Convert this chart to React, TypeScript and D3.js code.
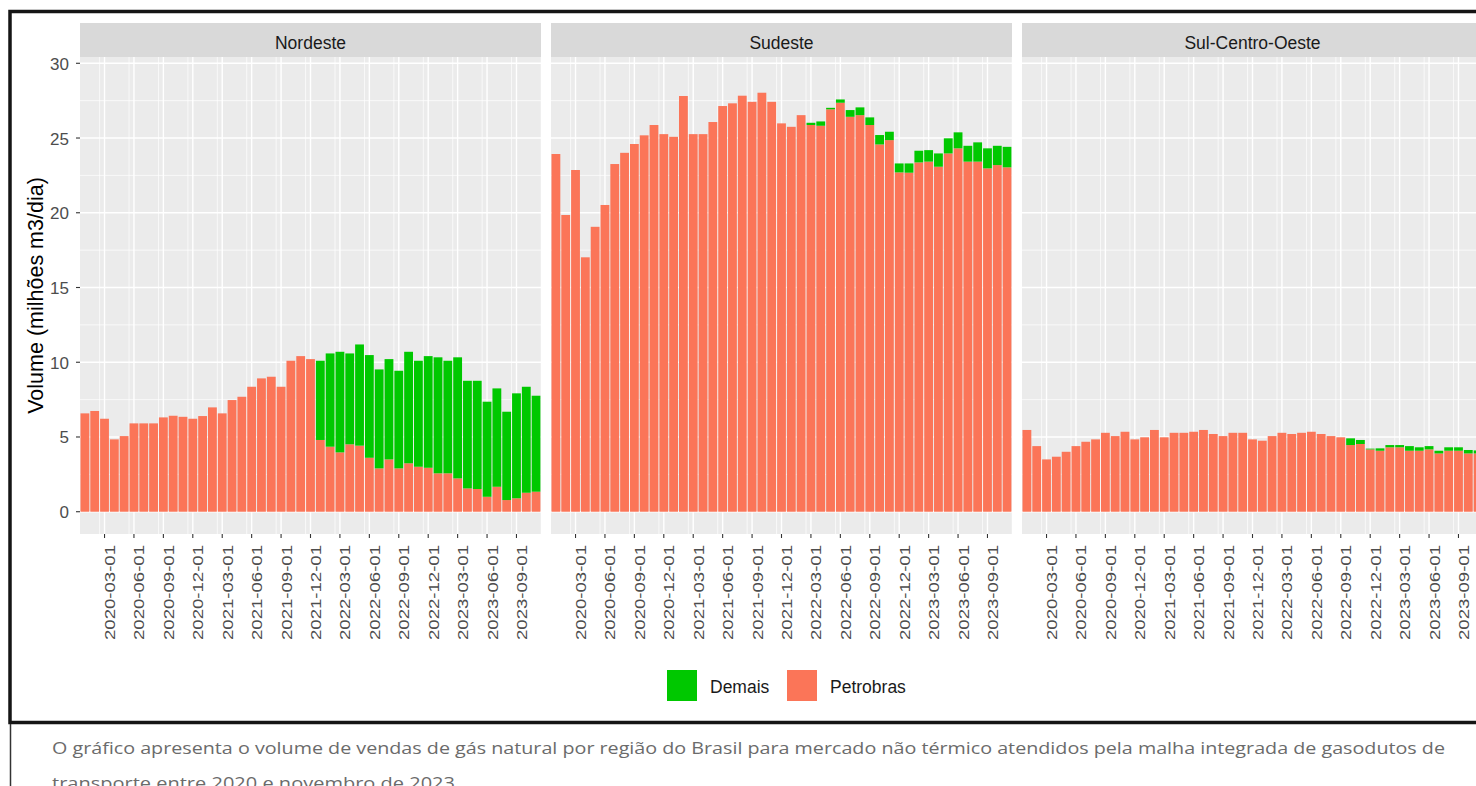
import React from "react";
import * as d3 from "d3";

const months = [
  "2020-01","2020-02","2020-03","2020-04","2020-05","2020-06","2020-07","2020-08","2020-09","2020-10","2020-11","2020-12",
  "2021-01","2021-02","2021-03","2021-04","2021-05","2021-06","2021-07","2021-08","2021-09","2021-10","2021-11","2021-12",
  "2022-01","2022-02","2022-03","2022-04","2022-05","2022-06","2022-07","2022-08","2022-09","2022-10","2022-11","2022-12",
  "2023-01","2023-02","2023-03","2023-04","2023-05","2023-06","2023-07","2023-08","2023-09","2023-10","2023-11",
];
const tickMonths = [
  "2020-03","2020-06","2020-09","2020-12","2021-03","2021-06","2021-09","2021-12",
  "2022-03","2022-06","2022-09","2022-12","2023-03","2023-06","2023-09",
];
const minorMonths = [
  "2020-01","2020-04","2020-07","2020-10","2021-01","2021-04","2021-07","2021-10",
  "2022-01","2022-04","2022-07","2022-10","2023-01","2023-04","2023-07","2023-10",
];
const yTicks = [0, 5, 10, 15, 20, 25, 30];
const yMinor = [2.5, 7.5, 12.5, 17.5, 22.5, 27.5];
const regions = ["Nordeste", "Sudeste", "Sul-Centro-Oeste"];
const seriesKeys = ["Petrobras", "Demais"];
const legendLabels = ["Demais", "Petrobras"];

const nordestePetrobras = [6.58,6.74,6.22,4.84,5.06,5.91,5.91,5.91,6.31,6.42,6.35,6.22,6.40,6.98,6.58,7.47,7.69,8.36,8.92,9.03,8.36,10.10,10.41,10.21,4.80,4.35,3.97,4.51,4.42,3.61,2.90,3.50,2.90,3.24,3.01,2.94,2.57,2.57,2.23,1.56,1.52,1.00,1.67,0.78,0.90,1.27,1.34];
const nordesteDemais = [0,0,0,0,0,0,0,0,0,0,0,0,0,0,0,0,0,0,0,0,0,0,0,0,5.30,6.24,6.73,6.08,6.77,6.87,6.62,6.71,6.53,7.46,7.09,7.47,7.76,7.53,8.10,7.20,7.24,6.36,6.58,5.91,7.02,7.09,6.42];
const sudestePetrobras = [23.93,19.85,22.86,17.02,19.06,20.52,23.26,24.01,24.60,25.18,25.87,25.26,25.08,27.81,25.26,25.26,26.07,27.14,27.32,27.83,27.42,28.03,27.42,25.98,25.75,26.53,25.87,25.82,26.92,27.36,26.42,26.53,25.87,24.57,24.86,22.70,22.68,23.37,23.42,23.08,23.97,24.31,23.42,23.42,22.97,23.19,23.04];
const sudesteDemais = [0,0,0,0,0,0,0,0,0,0,0,0,0,0,0,0,0,0,0,0,0,0,0,0,0,0,0.15,0.29,0.10,0.22,0.45,0.52,0.51,0.63,0.56,0.60,0.62,0.78,0.77,0.89,1.01,1.07,1.06,1.29,1.34,1.29,1.37];
const scoPetrobras = [5.47,4.39,3.50,3.68,4.01,4.39,4.68,4.84,5.28,5.06,5.35,4.84,4.98,5.47,4.98,5.28,5.28,5.35,5.47,5.20,5.06,5.28,5.28,4.84,4.75,5.06,5.28,5.20,5.28,5.35,5.20,5.06,4.98,4.46,4.53,4.17,4.08,4.31,4.31,4.08,4.08,4.17,3.90,4.08,4.08,3.90,3.90];
const scoDemais = [0,0,0,0,0,0,0,0,0,0,0,0,0,0,0,0,0,0,0,0,0,0,0,0,0,0,0,0,0,0,0,0,0,0.45,0.27,0.05,0.16,0.15,0.15,0.31,0.23,0.22,0.18,0.23,0.23,0.23,0.20];

const regionPetrobras = [nordestePetrobras, sudestePetrobras, scoPetrobras];
const regionDemais = [nordesteDemais, sudesteDemais, scoDemais];

const colors: Record<string, string> = { Petrobras: "#FB7558", Demais: "#00C800" };
const FONT = "'Liberation Sans', Arial, Helvetica, sans-serif";

const PANEL_W = 461;
const PANEL_GAP = 10;
const PANEL_X0 = 80;
const PANEL_TOP = 57;
const PANEL_BOTTOM = 534;
const STRIP_TOP = 23;

export default function App() {
  const y = d3.scaleLinear().domain([-1.49, 30.42]).range([PANEL_BOTTOM, PANEL_TOP]);
  const stack = d3.stack<any>().keys(seriesKeys);

  const panels = regions.map((name, p) => {
    const x0 = PANEL_X0 + p * (PANEL_W + PANEL_GAP);
    const x = d3.scaleBand<string>().domain(months).range([x0, x0 + PANEL_W]).paddingInner(0.1).paddingOuter(0.05);
    const step = x.step();
    const center = (m: string) => (x(m) as number) + x.bandwidth() / 2;
    const rows = months.map((m, i) => ({ month: m, Petrobras: regionPetrobras[p][i], Demais: regionDemais[p][i] }));
    const layers = stack(rows);
    return (
      <g key={name}>
        <rect x={x0} y={STRIP_TOP} width={PANEL_W} height={PANEL_TOP - STRIP_TOP} fill="#D9D9D9" />
        <text x={x0 + PANEL_W / 2} y={(STRIP_TOP + PANEL_TOP) / 2 + 2.5} textAnchor="middle" dominantBaseline="central" fontFamily={FONT} fontSize={17.5} fill="#1A1A1A">{name}</text>
        <rect x={x0} y={PANEL_TOP} width={PANEL_W} height={PANEL_BOTTOM - PANEL_TOP} fill="#EBEBEB" />
        {yMinor.map((v) => (
          <line key={"ym" + v} x1={x0} x2={x0 + PANEL_W} y1={y(v)} y2={y(v)} stroke="#FFFFFF" strokeWidth={0.7} />
        ))}
        {minorMonths.map((m) => (
          <line key={"xm" + m} x1={center(m) - 1.5 * step} x2={center(m) - 1.5 * step} y1={PANEL_TOP} y2={PANEL_BOTTOM} stroke="#FFFFFF" strokeWidth={0.7} />
        ))}
        {yTicks.map((v) => (
          <line key={"yM" + v} x1={x0} x2={x0 + PANEL_W} y1={y(v)} y2={y(v)} stroke="#FFFFFF" strokeWidth={1.4} />
        ))}
        {tickMonths.map((m) => (
          <line key={"xM" + m} x1={center(m)} x2={center(m)} y1={PANEL_TOP} y2={PANEL_BOTTOM} stroke="#FFFFFF" strokeWidth={1.4} />
        ))}
        {layers.map((layer) => (
          <g key={layer.key} fill={colors[layer.key]}>
            {layer.map((d, i) => (
              d[1] - d[0] > 0 ? (
                <rect key={i} x={x(months[i]) as number} width={x.bandwidth()} y={y(d[1])} height={y(d[0]) - y(d[1])} />
              ) : null
            ))}
          </g>
        ))}
        {tickMonths.map((m) => (
          <g key={"t" + m}>
            <line x1={center(m)} x2={center(m)} y1={PANEL_BOTTOM} y2={PANEL_BOTTOM + 4} stroke="#333333" strokeWidth={1.1} />
            <text transform={`translate(${center(m) + 5},${PANEL_BOTTOM + 11}) rotate(-90)`} textAnchor="end" dominantBaseline="central" fontFamily={FONT} fontSize={15.5} fill="#4D4D4D" textLength={95} lengthAdjust="spacingAndGlyphs">{m + "-01"}</text>
          </g>
        ))}
      </g>
    );
  });

  const legendItems = legendLabels.map((k, i) => {
    const kx = i === 0 ? 667 : 787;
    return (
      <g key={k}>
        <rect x={kx} y={670} width={30} height={31} fill={colors[k]} />
        <text x={kx + 43} y={687} dominantBaseline="central" fontFamily={FONT} fontSize={17.5} fill="#1A1A1A">{k}</text>
      </g>
    );
  });

  return (
    <svg width={1476} height={786} style={{ position: "absolute", left: 0, top: 0, background: "#FFFFFF" }}>
      <rect x={0} y={0} width={1476} height={786} fill="#FFFFFF" />
      <rect x={10} y={11.5} width={1490} height={711} fill="none" stroke="#151515" strokeWidth={3.5} />
      <line x1={10.5} x2={10.5} y1={724} y2={786} stroke="#333333" strokeWidth={1.5} />
      {panels}
      {yTicks.map((v) => (
        <g key={"yt" + v}>
          <line x1={PANEL_X0 - 4} x2={PANEL_X0} y1={y(v)} y2={y(v)} stroke="#333333" strokeWidth={1.1} />
          <text x={PANEL_X0 - 11} y={y(v) + 1} textAnchor="end" dominantBaseline="central" fontFamily={FONT} fontSize={17} fill="#4D4D4D">{v}</text>
        </g>
      ))}
      <text transform={`translate(36,${(PANEL_TOP + PANEL_BOTTOM) / 2}) rotate(-90)`} textAnchor="middle" dominantBaseline="central" fontFamily={FONT} fontSize={21.5} fill="#000000">Volume (milhões m3/dia)</text>
      {legendItems}
      <text x={52} y={754} fontFamily="'Open Sans', sans-serif" fontSize={17} fill="#6B6B6B" textLength={1393} lengthAdjust="spacingAndGlyphs">O gráfico apresenta o volume de vendas de gás natural por região do Brasil para mercado não térmico atendidos pela malha integrada de gasodutos de</text>
      <text x={52} y={789} fontFamily="'Open Sans', sans-serif" fontSize={17} fill="#6B6B6B" textLength={403} lengthAdjust="spacingAndGlyphs">transporte entre 2020 e novembro de 2023</text>
    </svg>
  );
}
